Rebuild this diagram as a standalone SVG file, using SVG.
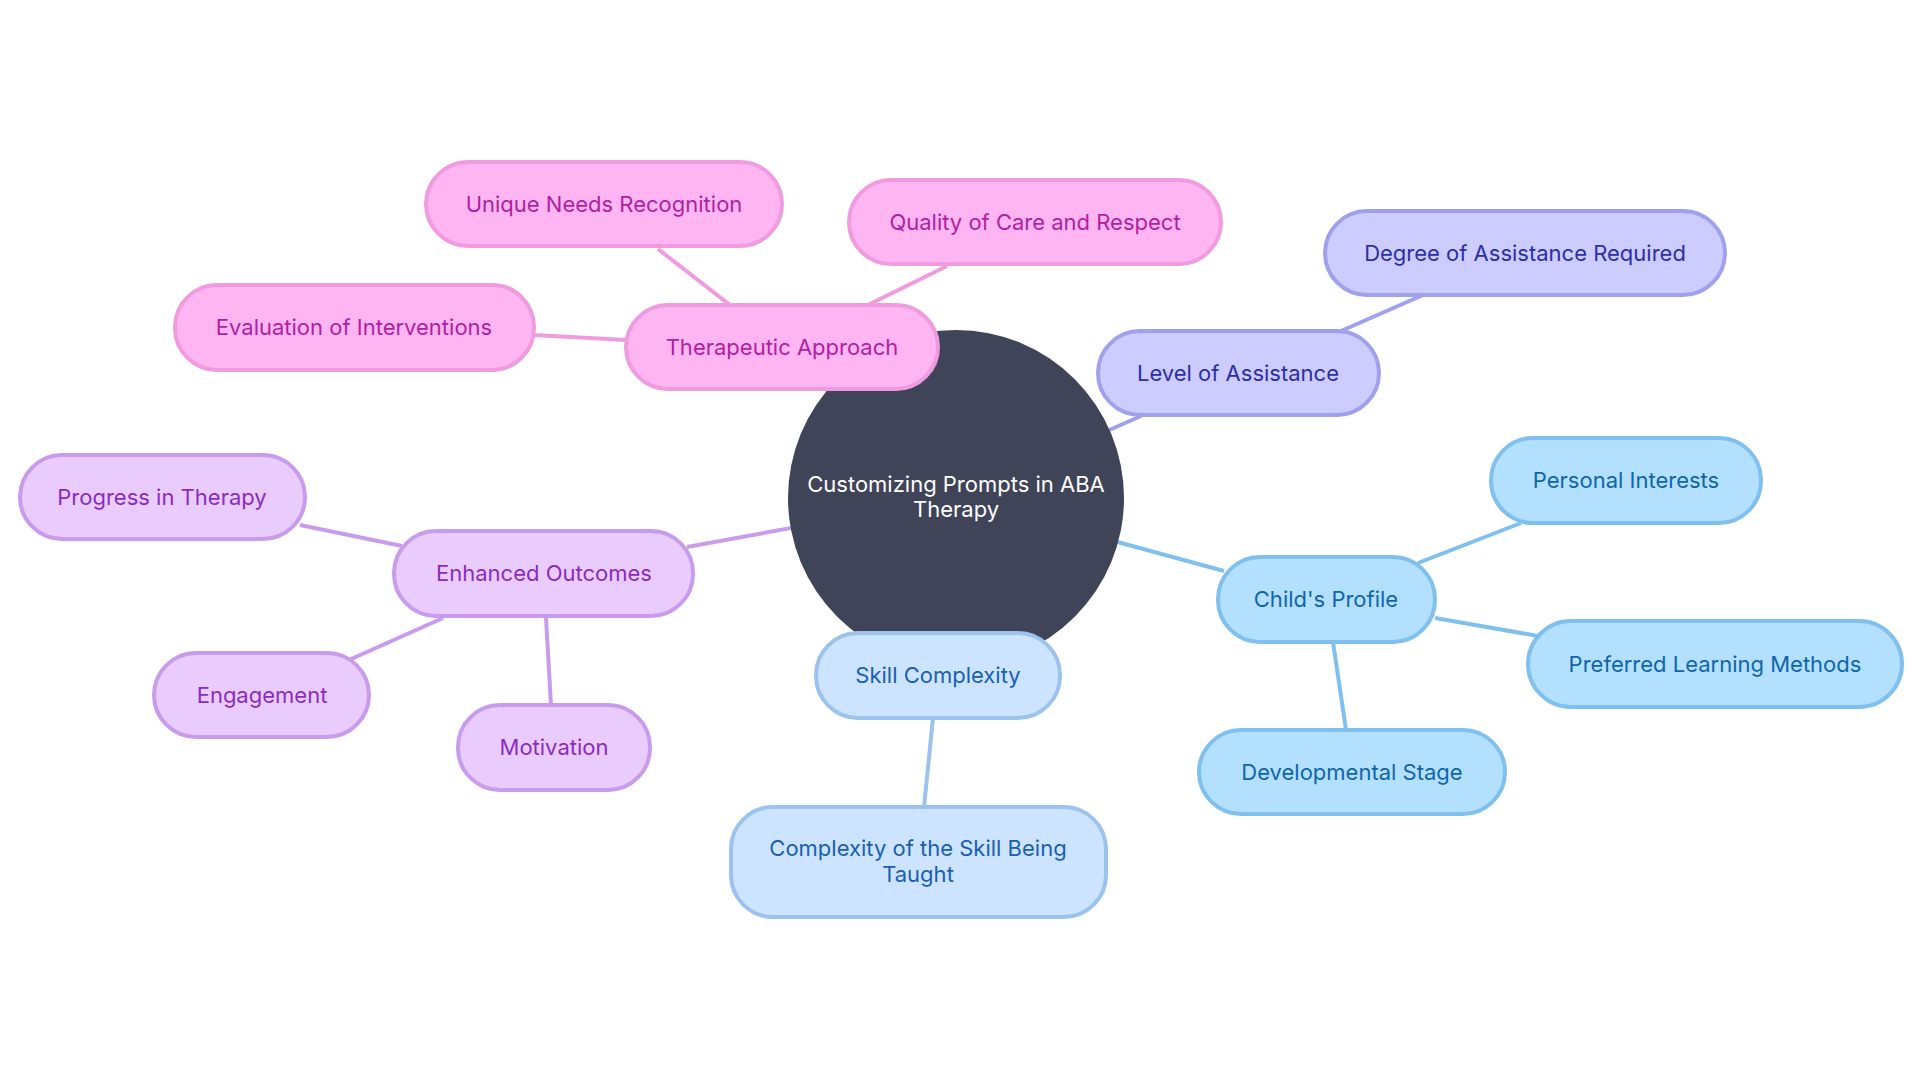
<svg xmlns="http://www.w3.org/2000/svg" width="1920" height="1080" viewBox="0 0 1920 1080">
<style>
text{font-family:Inter,"Noto Sans",sans-serif;font-size:22px;text-anchor:middle;dominant-baseline:central}
rect{stroke-width:4}
line{stroke-width:4}
.pk rect{fill:#FFB5F2;stroke:#F09ADF}.pk text{fill:#B01FA0}
.pu rect{fill:#E9CCFD;stroke:#C99BEC}.pu text{fill:#8A2CC0}
.in rect{fill:#CCCCFF;stroke:#A0A0EC}.in text{fill:#2E2EA6}
.lb rect{fill:#B3E0FF;stroke:#7FC0EE}.lb text{fill:#1066A8}
.sb rect{fill:#CCE4FF;stroke:#9CC3EE}.sb text{fill:#1A5FB0}
</style>
<rect width="1920" height="1080" fill="#fff"/>
<g id="connectors">
<line x1="956" y1="498" x2="782" y2="347" stroke="#F09ADF"/>
<line x1="730" y1="305" x2="658" y2="249" stroke="#F09ADF"/>
<line x1="868" y1="305" x2="947" y2="266" stroke="#F09ADF"/>
<line x1="626" y1="340" x2="534" y2="335" stroke="#F09ADF"/>
<line x1="956" y1="498" x2="1141" y2="416" stroke="#A0A0EC"/>
<line x1="1341" y1="331" x2="1423" y2="295" stroke="#A0A0EC"/>
<line x1="956" y1="498" x2="1224" y2="571" stroke="#7FC0EE"/>
<line x1="1418" y1="563" x2="1521" y2="523" stroke="#7FC0EE"/>
<line x1="1435" y1="618" x2="1538" y2="636" stroke="#7FC0EE"/>
<line x1="1333" y1="642" x2="1346" y2="730" stroke="#7FC0EE"/>
<line x1="956" y1="498" x2="938" y2="675" stroke="#9CC3EE"/>
<line x1="933" y1="718" x2="924" y2="807" stroke="#9CC3EE"/>
<line x1="956" y1="498" x2="687" y2="547" stroke="#C99BEC"/>
<line x1="402" y1="546" x2="300" y2="525" stroke="#C99BEC"/>
<line x1="443" y1="618" x2="349" y2="660" stroke="#C99BEC"/>
<line x1="546" y1="618" x2="551" y2="705" stroke="#C99BEC"/>
</g>
<g id="center"><circle cx="956" cy="498" r="168" fill="#404459"/><text x="956" y="484" fill="#fff">Customizing Prompts in ABA</text><text x="956" y="509" fill="#fff">Therapy</text></g>
<g id="therapeutic" class="pk"><rect x="626" y="305" width="312" height="84" rx="42"/><text x="782" y="347">Therapeutic Approach</text></g>
<g id="unique" class="pk"><rect x="426" y="162" width="356" height="84" rx="42"/><text x="604" y="204">Unique Needs Recognition</text></g>
<g id="quality" class="pk"><rect x="849" y="180" width="372" height="84" rx="42"/><text x="1035" y="222">Quality of Care and Respect</text></g>
<g id="evaluation" class="pk"><rect x="175" y="285" width="359" height="85" rx="42"/><text x="354" y="327">Evaluation of Interventions</text></g>
<g id="level" class="in"><rect x="1098" y="331" width="281" height="84" rx="42"/><text x="1238" y="373">Level of Assistance</text></g>
<g id="degree" class="in"><rect x="1325" y="211" width="400" height="84" rx="42"/><text x="1525" y="253">Degree of Assistance Required</text></g>
<g id="personal" class="lb"><rect x="1491" y="438" width="270" height="85" rx="42"/><text x="1626" y="480">Personal Interests</text></g>
<g id="child" class="lb"><rect x="1218" y="557" width="217" height="85" rx="42"/><text x="1326" y="599">Child's Profile</text></g>
<g id="preferred" class="lb"><rect x="1528" y="621" width="374" height="86" rx="43"/><text x="1715" y="664">Preferred Learning Methods</text></g>
<g id="developmental" class="lb"><rect x="1199" y="730" width="306" height="84" rx="42"/><text x="1352" y="772">Developmental Stage</text></g>
<g id="skill" class="sb"><rect x="816" y="633" width="244" height="85" rx="42"/><text x="938" y="675">Skill Complexity</text></g>
<g id="complexity" class="sb"><rect x="731" y="807" width="375" height="110" rx="42"/><text x="918" y="848">Complexity of the Skill Being</text><text x="918" y="874">Taught</text></g>
<g id="enhanced" class="pu"><rect x="394" y="531" width="299" height="85" rx="42"/><text x="544" y="573">Enhanced Outcomes</text></g>
<g id="progress" class="pu"><rect x="20" y="455" width="285" height="84" rx="42"/><text x="162" y="497">Progress in Therapy</text></g>
<g id="engagement" class="pu"><rect x="154" y="653" width="215" height="84" rx="42"/><text x="262" y="695">Engagement</text></g>
<g id="motivation" class="pu"><rect x="458" y="705" width="192" height="85" rx="42"/><text x="554" y="747">Motivation</text></g>
</svg>
